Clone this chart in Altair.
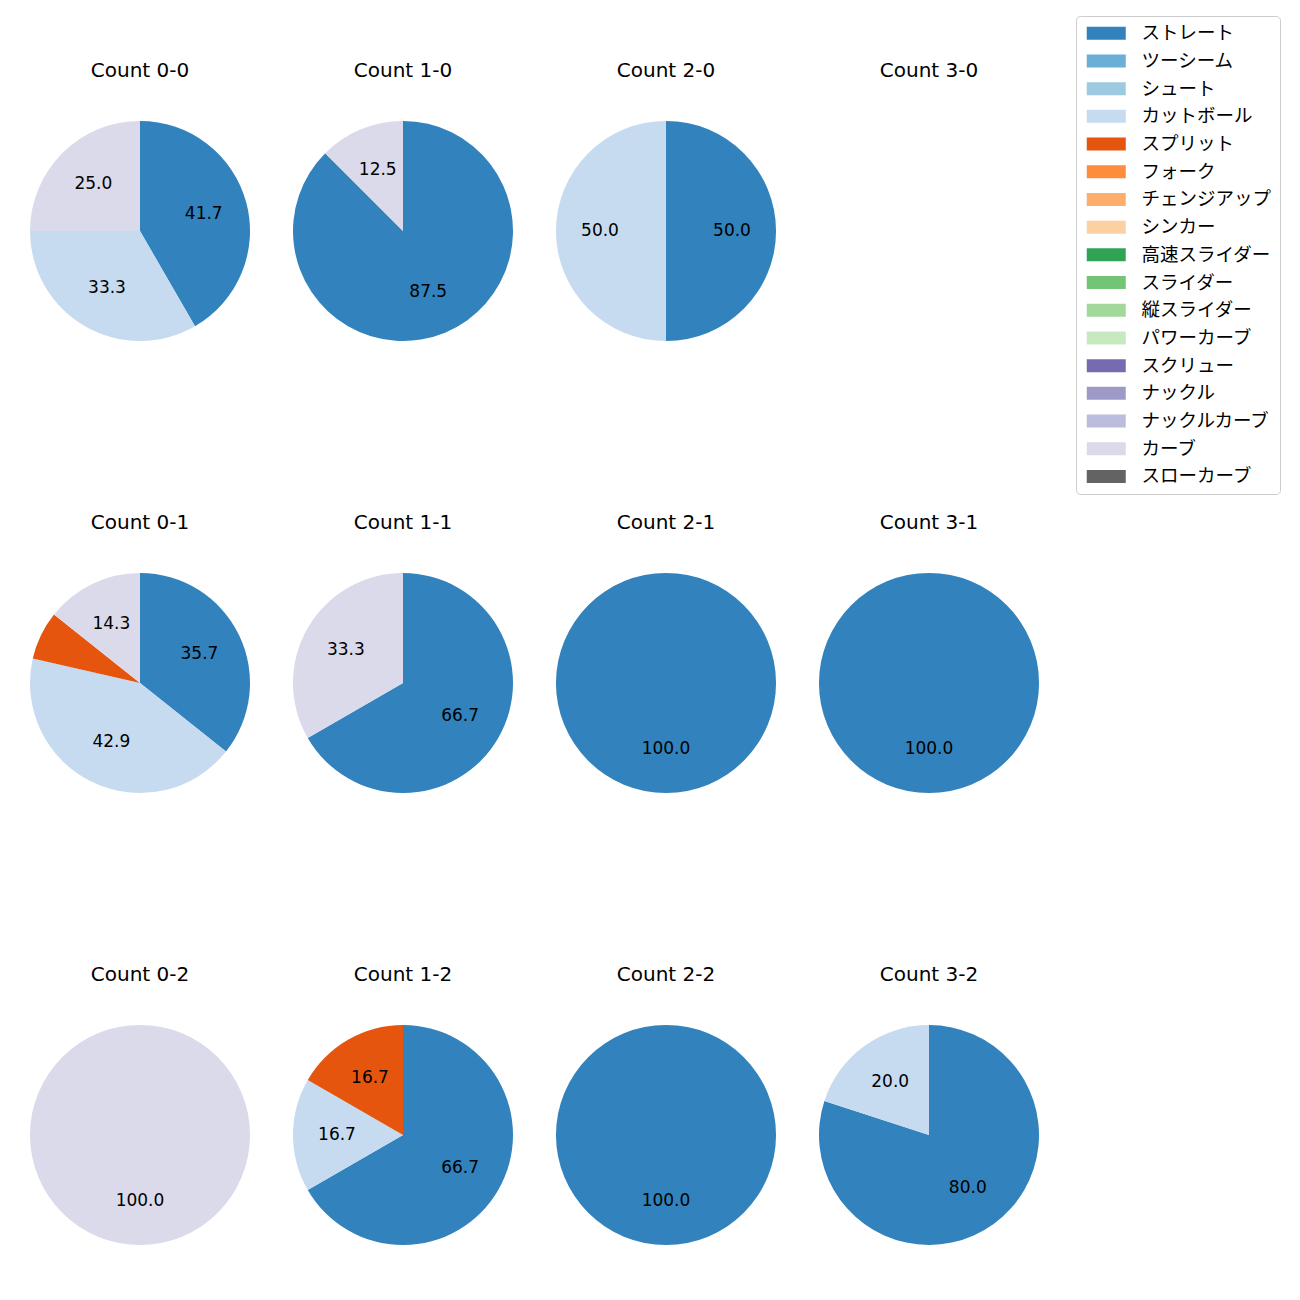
import altair as alt
import pandas as pd

pitch_types = ["ストレート", "ツーシーム", "シュート", "カットボール", "スプリット", "フォーク",
               "チェンジアップ", "シンカー", "高速スライダー", "スライダー", "縦スライダー",
               "パワーカーブ", "スクリュー", "ナックル", "ナックルカーブ", "カーブ", "スローカーブ"]
pitch_colors = ["#3182bd", "#6baed6", "#9ecae1", "#c6dbef", "#e6550d", "#fd8d3c",
                "#fdae6b", "#fdd0a2", "#31a354", "#74c476", "#a1d99b", "#c7e9c0",
                "#756bb1", "#9e9ac8", "#bcbddc", "#dadaeb", "#636363"]

count_labels = ["0-0", "1-0", "2-0", "3-0",
                "0-1", "1-1", "2-1", "3-1",
                "0-2", "1-2", "2-2", "3-2"]

# pitches thrown in each count and how many of each
count_pitches = {
    "0-0": ["ストレート", "カットボール", "カーブ"],
    "1-0": ["ストレート", "カーブ"],
    "2-0": ["ストレート", "カットボール"],
    "3-0": [],
    "0-1": ["ストレート", "カットボール", "スプリット", "カーブ"],
    "1-1": ["ストレート", "カーブ"],
    "2-1": ["ストレート"],
    "3-1": ["ストレート"],
    "0-2": ["カーブ"],
    "1-2": ["ストレート", "カットボール", "スプリット"],
    "2-2": ["ストレート"],
    "3-2": ["ストレート", "カットボール"],
}
count_numbers = {
    "0-0": [5, 4, 3],
    "1-0": [7, 1],
    "2-0": [1, 1],
    "3-0": [],
    "0-1": [5, 6, 1, 2],
    "1-1": [2, 1],
    "2-1": [1],
    "3-1": [1],
    "0-2": [1],
    "1-2": [4, 1, 1],
    "2-2": [1],
    "3-2": [4, 1],
}

LATIN = "DejaVu Sans, Noto Sans CJK JP"
JP = "Noto Sans CJK JP"

rows = []
for c in count_labels:
    nums = count_numbers[c]
    total = sum(nums)
    for p, n in zip(count_pitches[c], nums):
        pct = 100.0 * n / total
        rows.append({"count": c, "pitch": p, "n": n, "idx": pitch_types.index(p),
                     "pct": pct, "label": f"{pct:.1f}" if pct >= 10 else ""})
df = pd.DataFrame(rows)

color = alt.Color(
    "pitch:N",
    scale=alt.Scale(domain=pitch_types, range=pitch_colors),
    legend=alt.Legend(
        title=None, orient="none", legendX=1046, legendY=-105,
        labelFontSize=18.5, labelFont=JP, labelColor="#000",
        symbolType="M-1,-1H5V1H-1Z", symbolSize=169, symbolStrokeWidth=0,
        symbolOpacity=1, labelOffset=39, rowPadding=8.7,
        padding=8, strokeColor="#cccccc", cornerRadius=4,
        labelLimit=300,
    ),
)


def panel(c):
    title = alt.TitleParams(f"Count {c}", fontSize=20, font=LATIN, fontWeight="normal",
                            color="#000", offset=40)
    sub = df[df["count"] == c]
    if len(sub) == 0:
        empty = alt.Chart(pd.DataFrame({"x": [0]})).mark_point(opacity=0).encode(
            x=alt.value(110), y=alt.value(110)
        )
        return alt.layer(empty).properties(width=220, height=220, title=title)
    base = alt.Chart(sub).encode(
        theta=alt.Theta("n:Q", stack=True),
        order=alt.Order("idx:Q"),
    )
    arc = base.mark_arc(outerRadius=110).encode(color=color)
    text = base.mark_text(
        radius=66, fontSize=17, font=LATIN
    ).encode(text="label:N", color=alt.value("#000"))
    return alt.layer(arc, text).properties(width=220, height=220, title=title)


grid_rows = []
for r in range(3):
    grid_rows.append(alt.hconcat(*[panel(count_labels[r * 4 + k]) for k in range(4)], spacing=43))

chart = alt.vconcat(*grid_rows, spacing=172).properties(
    padding={"left": 22, "top": 7, "right": 5, "bottom": 5}
).configure(font=LATIN).configure_view(strokeWidth=0, strokeOpacity=0)

chart.save("out.html", embed_options={"renderer": "svg", "actions": False})
